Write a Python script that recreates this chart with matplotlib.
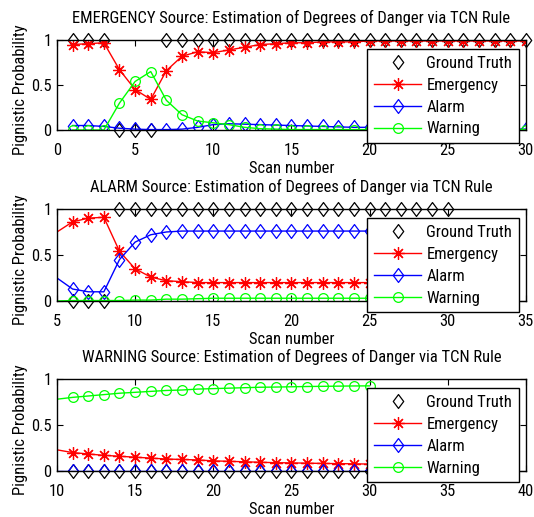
import matplotlib
matplotlib.use("Agg")
import matplotlib.pyplot as plt
from matplotlib import font_manager
from matplotlib.path import Path

# police étroite si possible (le modèle a un Helvetica tassé)
polices = font_manager.fontManager.ttflist
choix = None
for nom, large in [("Liberation Sans Narrow", None), ("Roboto Condensed", None),
                   ("Noto Sans", "condensed"), ("Open Sans", "condensed"),
                   ("Roboto", "condensed"), ("Liberation Sans", None)]:
    for f in polices:
        if f.name == nom and (large is None or f.stretch == large) and f.style == "normal":
            choix = (nom, large or "normal")
            break
    if choix:
        break
if choix is None:
    choix = ("DejaVu Sans", "normal")
plt.rcParams['font.family'] = [choix[0], 'DejaVu Sans']
plt.rcParams['font.stretch'] = choix[1]

# panneau 1 : source EMERGENCY, scans 1..30
scans1 = list(range(1, 31))
gt1 = [1, 1, 1, 0, 0, 0] + [1] * 24
emg1 = [0.95, 0.96, 0.97, 0.67, 0.45, 0.34, 0.66, 0.82, 0.87, 0.86,
        0.89, 0.92, 0.95, 0.96, 0.97, 0.97, 0.98, 0.98, 0.98, 0.99,
        0.99, 0.99, 0.99, 0.99, 0.99, 0.99, 0.99, 0.99, 0.99, 0.99]
alm1 = [0.05, 0.05, 0.04, 0.02, 0.01, 0.005, 0.005, 0.01, 0.03, 0.06,
        0.07, 0.065, 0.06, 0.055, 0.05, 0.045, 0.04, 0.035, 0.03, 0.03,
        0.025, 0.025, 0.02, 0.02, 0.02, 0.015, 0.015, 0.015, 0.01, 0.01]
wrn1 = [0, 0, 0, 0.3, 0.54, 0.65, 0.33, 0.17, 0.1, 0.08,
        0.06, 0.03, 0.015, 0.01, 0.005, 0.005, 0.005, 0.005, 0.005, 0.005,
        0.005, 0.005, 0.005, 0.005, 0.005, 0.005, 0.005, 0.005, 0.005, 0.005]

# panneau 2 : source ALARM, scans 5..30
scans2 = list(range(5, 31))
gt2 = [0, 0, 0, 0] + [1] * 22
emg2 = [0.75, 0.86, 0.9, 0.91, 0.54, 0.35, 0.26, 0.22, 0.21, 0.2] + [0.2] * 16
alm2 = [0.25, 0.13, 0.1, 0.1, 0.45, 0.64, 0.72, 0.75, 0.76, 0.76] + [0.76] * 16
wrn2 = [0, 0.005, 0.005, 0.005, 0.005, 0.01, 0.01, 0.02, 0.02, 0.025] + [0.03] * 16

# panneau 3 : source WARNING, scans 10..30
scans3 = list(range(10, 31))
gt3 = [0] * 21
emg3 = [0.23, 0.2, 0.185, 0.17, 0.16, 0.15, 0.14, 0.13, 0.125, 0.12, 0.11,
        0.105, 0.1, 0.095, 0.09, 0.088, 0.085, 0.082, 0.08, 0.078, 0.075]
alm3 = [0] * 21
wrn3 = [0.78, 0.8, 0.815, 0.83, 0.845, 0.855, 0.865, 0.875, 0.88, 0.89, 0.895,
        0.9, 0.905, 0.91, 0.912, 0.915, 0.918, 0.92, 0.922, 0.924, 0.925]

titres = ["EMERGENCY Source: Estimation of Degrees of Danger via TCN Rule",
          "ALARM Source: Estimation of Degrees of Danger via TCN Rule",
          "WARNING Source: Estimation of Degrees of Danger via TCN Rule"]
limites = [(0, 30), (5, 35), (10, 40)]

losange = Path([(0, 1), (0.75, 0), (0, -1), (-0.75, 0), (0, 1)],
               [Path.MOVETO, Path.LINETO, Path.LINETO, Path.LINETO, Path.CLOSEPOLY])
etoile = (8, 2, 0)

fig = plt.figure(figsize=(5.34, 5.17), dpi=100)

# taille de police réglée sur la largeur du premier titre (~440 px)
essai = fig.text(0, 0, titres[0], fontsize=12.5)
largeur = essai.get_window_extent(fig.canvas.get_renderer()).width
essai.remove()
fs = 12.5 * 440.0 / largeur
fs = max(10.0, min(15.0, fs))


def panneau(ax, x, gt, emg, alm, wrn, titre, lim, debut):
    m = list(range(debut, len(x)))
    ax.plot(x, gt, linestyle="none", marker=losange, markersize=10, color="k",
            mfc="none", mew=0.9, markevery=m, label="Ground Truth", clip_on=False)
    ax.plot(x, emg, "-", marker=etoile, markersize=9, color="#ff0000", lw=1,
            mew=0.9, markevery=m, label="Emergency")
    ax.plot(x, alm, "-", marker=losange, markersize=10, color="#0000ff", lw=1,
            mfc="none", mew=0.9, markevery=m, label="Alarm")
    ax.plot(x, wrn, "-", marker="o", markersize=7, color="#00ff00", lw=1,
            mfc="none", mew=0.9, markevery=m, label="Warning")
    ax.set_xlim(lim)
    ax.set_ylim(0, 1)
    ax.set_yticks([0, 0.5, 1])
    ax.set_yticklabels(["0", "0.5", "1"])
    ax.set_xticks(range(lim[0], lim[1] + 1, 5))
    ax.tick_params(direction="in", top=True, right=True, length=4, width=0.8,
                   labelsize=fs)
    ax.tick_params(axis="x", pad=9.5)
    ax.tick_params(axis="y", pad=4)
    for s in ax.spines.values():
        s.set_linewidth(1)
    ax.set_title(titre, fontsize=fs, pad=12)
    ax.set_xlabel("Scan number", fontsize=fs)
    ax.xaxis.set_label_coords(0.5, -0.34)
    ax.set_ylabel("Pignistic Probability", fontsize=fs)
    ax.yaxis.set_label_coords(-0.062, 0.45)
    leg = ax.legend(loc="upper right", bbox_to_anchor=(0.985, 0.9),
                    fontsize=fs, fancybox=False, framealpha=1,
                    edgecolor="k", handlelength=2.9, handletextpad=0.3,
                    labelspacing=0.42, borderpad=0.4, borderaxespad=0)
    leg.get_frame().set_linewidth(1)
    leg.set_zorder(10)


ax1 = fig.add_axes([0.1067, 0.7485, 0.878, 0.174])
ax2 = fig.add_axes([0.1067, 0.4178, 0.878, 0.178])
ax3 = fig.add_axes([0.1067, 0.089, 0.878, 0.178])

panneau(ax1, scans1, gt1, emg1, alm1, wrn1, titres[0], limites[0], 0)
panneau(ax2, scans2, gt2, emg2, alm2, wrn2, titres[1], limites[1], 1)
panneau(ax3, scans3, gt3, emg3, alm3, wrn3, titres[2], limites[2], 1)

plt.savefig("out.png", dpi=100)
plt.close()
